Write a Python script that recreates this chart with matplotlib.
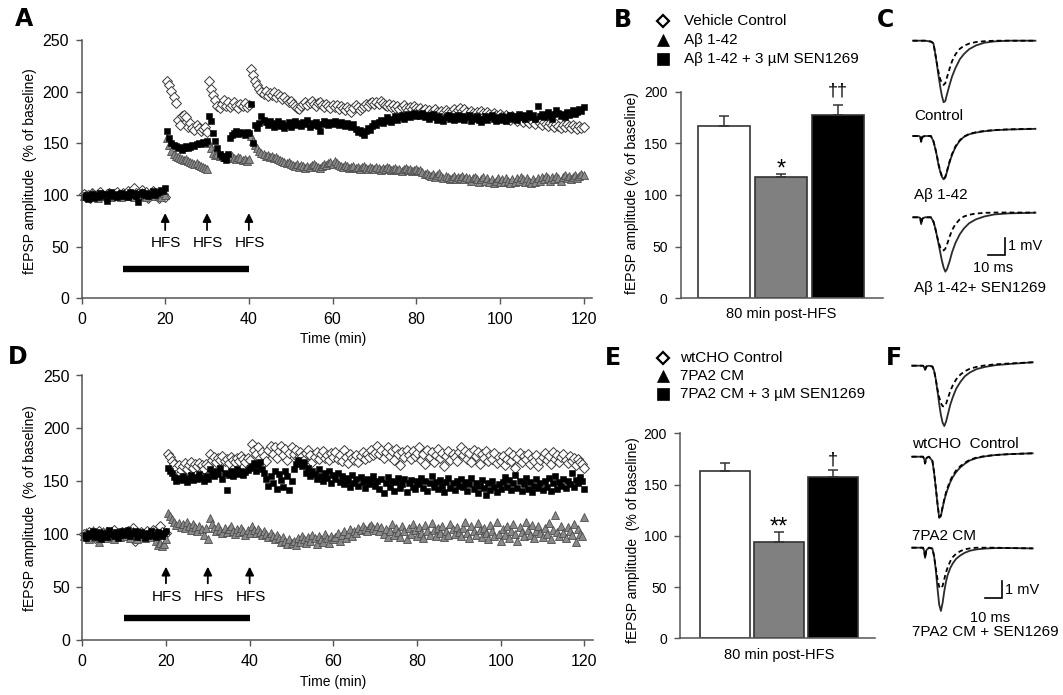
import numpy as np
import matplotlib
matplotlib.use("Agg")
import matplotlib.pyplot as plt
from matplotlib.lines import Line2D

# ---------------------------------------------------------------- data
sample_interval_min = 0.5

# Panel A (Abeta 1-42 experiment), one value every 0.5 min from 0.5 to 120 min
a_vehicle = [
    101, 99, 100, 97, 102, 100, 98, 101, 103, 100, 98, 101, 102, 99, 100, 101, 103, 100, 99, 102,
    101, 104, 100, 103, 107, 102, 99, 101, 105, 100, 103, 97, 101, 104, 100, 102, 97, 99, 101, 98,
    210, 206, 201, 195, 189, 173, 168, 176, 177, 175, 166, 170, 165, 163, 168, 165, 162, 164, 166, 161,
    210, 203, 197, 192, 186, 184, 188, 192, 186, 190, 185, 187, 190, 186, 184, 188, 186, 189, 185, 187,
    222, 216, 210, 206, 203, 200, 198, 201, 196, 199, 197, 200, 195, 198, 196, 193, 195, 192, 190, 191,
    188, 186, 184, 183, 186, 188, 190, 187, 189, 191, 188, 186, 189, 190, 187, 185, 188, 186, 184, 187,
    185, 187, 183, 186, 184, 182, 185, 183, 180, 184, 187, 185, 182, 184, 186, 188, 186, 189, 190, 188,
    190, 188, 191, 189, 187, 186, 188, 185, 187, 184, 186, 183, 185, 187, 184, 182, 185, 183, 186, 184,
    182, 184, 181, 183, 180, 182, 179, 181, 183, 180, 178, 181, 179, 182, 180, 178, 181, 183, 180, 182,
    184, 181, 183, 180, 178, 181, 179, 177, 180, 178, 181, 179, 177, 180, 178, 176, 179, 177, 175, 178,
    176, 174, 177, 175, 173, 176, 174, 172, 175, 173, 171, 174, 172, 170, 173, 171, 169, 172, 170, 168,
    171, 169, 167, 170, 168, 166, 169, 167, 165, 168, 166, 169, 167, 165, 168, 166, 164, 167, 165, 166,
]
a_abeta = [
    99, 101, 98, 100, 102, 99, 100, 97, 101, 100, 99, 102, 100, 98, 101, 99, 100, 102, 98, 100,
    101, 99, 100, 102, 98, 101, 100, 99, 103, 100, 98, 101, 100, 102, 99, 101, 100, 98, 102, 100,
    155, 148, 143, 140, 138, 137, 136, 135, 134, 135, 133, 132, 131, 130, 131, 129, 128, 127, 126, 125,
    150, 145, 141, 139, 140, 138, 139, 137, 138, 136, 137, 138, 136, 135, 137, 136, 134, 135, 133, 135,
    157, 152, 148, 145, 143, 141, 140, 138, 139, 137, 138, 136, 137, 135, 134, 133, 132, 131, 132, 130,
    129, 128, 130, 127, 129, 128, 126, 128, 127, 129, 130, 128, 127, 126, 128, 130, 129, 131, 132, 130,
    133, 131, 129, 128, 127, 129, 128, 126, 127, 128, 126, 127, 125, 127, 128, 126, 125, 127, 126, 125,
    127, 126, 124, 126, 125, 127, 126, 124, 125, 126, 124, 125, 123, 125, 126, 124, 125, 123, 124, 125,
    123, 124, 122, 120, 121, 119, 118, 120, 117, 119, 121, 118, 116, 118, 117, 115, 116, 118, 115, 117,
    116, 118, 115, 117, 116, 114, 116, 117, 115, 113, 115, 117, 114, 116, 113, 115, 112, 114, 116, 113,
    115, 113, 116, 114, 112, 115, 113, 116, 114, 117, 115, 113, 116, 114, 112, 115, 113, 116, 114, 117,
    115, 118, 116, 114, 117, 115, 118, 116, 114, 117, 119, 116, 118, 115, 117, 119, 116, 118, 120, 119,
]
a_abeta_sen = [
    98, 100, 96, 99, 101, 97, 100, 98, 102, 99, 101, 94, 100, 103, 99, 101, 98, 100, 102, 99,
    101, 98, 103, 100, 102, 99, 93, 101, 103, 100, 102, 99, 101, 104, 100, 102, 103, 105, 104, 107,
    162, 155, 150, 148, 147, 145, 146, 144, 145, 147, 145, 146, 148, 147, 149, 150, 149, 151, 150, 152,
    176, 172, 160, 152, 145, 140, 138, 136, 134, 140, 155, 158, 160, 162, 159, 161, 160, 158, 161, 160,
    188, 150, 168, 165, 170, 176, 173, 171, 168, 172, 170, 166, 169, 172, 167, 170, 165, 168, 171, 166,
    169, 172, 168, 170, 167, 171, 169, 173, 166, 170, 168, 171, 167, 162, 169, 172, 170, 168, 171, 169,
    172, 170, 168, 171, 169, 167, 170, 168, 166, 169, 164, 161, 163, 160, 158, 162, 165, 163, 167, 170,
    168, 171, 173, 170, 172, 175, 173, 171, 174, 176, 173, 175, 177, 174, 176, 178, 175, 177, 179, 176,
    178, 176, 179, 175, 177, 174, 176, 178, 175, 173, 176, 174, 172, 175, 177, 174, 176, 173, 175, 177,
    174, 176, 173, 175, 177, 172, 175, 174, 176, 173, 171, 174, 176, 173, 175, 177, 174, 172, 175, 173,
    176, 174, 172, 175, 177, 174, 176, 173, 178, 175, 177, 174, 176, 179, 175, 177, 174, 186, 176, 178,
    175, 177, 180, 176, 174, 178, 182, 179, 176, 178, 175, 180, 177, 179, 182, 178, 180, 183, 181, 185,
]

# Panel D (7PA2 conditioned medium experiment)
d_wtcho = [
    100, 97, 102, 99, 101, 96, 100, 103, 98, 101, 99, 102, 97, 100, 104, 99, 101, 98, 102, 100,
    99, 103, 100, 106, 94, 101, 98, 102, 100, 97, 103, 99, 101, 104, 100, 98, 108, 102, 99, 101,
    176, 173, 169, 166, 163, 165, 161, 164, 167, 162, 165, 168, 163, 166, 164, 167, 165, 162, 166, 164,
    176, 170, 173, 168, 172, 170, 174, 169, 171, 167, 173, 170, 168, 172, 169, 174, 171, 168, 172, 170,
    185, 180, 176, 182, 172, 178, 174, 169, 180, 183, 176, 182, 172, 179, 183, 175, 181, 170, 177, 182,
    176, 180, 172, 178, 174, 170, 177, 180, 175, 168, 173, 178, 171, 176, 179, 172, 175, 170, 177, 173,
    178, 171, 175, 169, 180, 173, 167, 176, 172, 170, 175, 168, 174, 178, 171, 176, 173, 180, 175, 177,
    183, 176, 180, 172, 178, 182, 174, 179, 170, 181, 176, 165, 178, 173, 180, 175, 171, 179, 174, 177,
    182, 170, 176, 166, 180, 173, 178, 168, 175, 181, 172, 177, 164, 174, 179, 170, 176, 173, 169, 178,
    182, 175, 179, 171, 177, 168, 180, 174, 178, 166, 176, 172, 179, 169, 175, 171, 177, 167, 173, 169,
    174, 165, 171, 178, 169, 175, 163, 172, 177, 168, 174, 171, 176, 166, 172, 169, 175, 164, 170, 173,
    177, 170, 174, 166, 178, 171, 175, 168, 173, 176, 170, 167, 174, 169, 172, 165, 171, 168, 166, 163,
]
d_7pa2 = [
    98, 102, 95, 100, 104, 97, 101, 93, 99, 103, 96, 100, 98, 102, 95, 101, 99, 97, 103, 100,
    98, 101, 96, 103, 99, 95, 102, 98, 100, 96, 99, 101, 97, 103, 94, 90, 92, 89, 91, 95,
    120, 117, 114, 112, 109, 111, 107, 110, 106, 112, 108, 104, 110, 107, 103, 108, 105, 99, 106, 95,
    115, 110, 106, 103, 108, 104, 101, 106, 102, 105, 108, 103, 100, 105, 102, 106, 103, 99, 104, 101,
    108, 104, 101, 105, 102, 99, 103, 100, 97, 101, 98, 95, 99, 96, 93, 97, 94, 91, 95, 92,
    94, 90, 96, 93, 98, 95, 92, 97, 94, 99, 96, 91, 98, 95, 93, 100, 96, 92, 98, 95,
    97, 101, 94, 99, 103, 96, 100, 105, 98, 103, 101, 106, 104, 108, 105, 103, 107, 109, 106, 104,
    108, 103, 107, 100, 105, 97, 103, 110, 99, 106, 102, 97, 108, 103, 95, 106, 100, 110, 104, 98,
    107, 101, 96, 109, 103, 99, 111, 104, 98, 106, 101, 108, 97, 103, 99, 110, 105, 100, 107, 102,
    98, 106, 112, 101, 96, 108, 103, 99, 111, 104, 97, 106, 101, 95, 109, 103, 98, 112, 100, 94,
    105, 99, 108, 96, 103, 110, 100, 94, 107, 102, 98, 112, 104, 99, 109, 96, 103, 108, 101, 97,
    106, 100, 111, 95, 104, 118, 102, 98, 108, 101, 96, 107, 103, 99, 110, 93, 105, 100, 98, 116,
]
d_7pa2_sen = [
    99, 96, 101, 98, 103, 97, 100, 102, 95, 99, 101, 97, 104, 100, 98, 102, 96, 101, 103, 99,
    100, 104, 98, 101, 103, 97, 99, 102, 100, 96, 101, 98, 103, 99, 97, 102, 100, 98, 101, 103,
    163, 160, 158, 154, 150, 153, 151, 155, 152, 149, 153, 156, 151, 154, 152, 157, 153, 150, 155, 152,
    162, 158, 155, 160, 157, 163, 152, 158, 142, 156, 160, 155, 158, 162, 157, 160, 156, 159, 161, 163,
    164, 167, 160, 165, 168, 162, 158, 152, 146, 155, 148, 160, 143, 157, 151, 145, 160, 155, 142, 150,
    162, 166, 170, 167, 164, 168, 158, 163, 155, 160, 157, 152, 162, 155, 150, 158, 153, 160, 148, 156,
    152, 158, 149, 155, 147, 153, 150, 145, 156, 148, 152, 146, 154, 149, 144, 152, 147, 150, 155, 146,
    150, 143, 152, 139, 148, 154, 145, 150, 141, 149, 153, 144, 147, 152, 140, 148, 151, 145, 143, 150,
    147, 153, 144, 150, 141, 148, 155, 145, 149, 143, 151, 146, 140, 149, 153, 144, 148, 142, 150, 146,
    152, 145, 149, 141, 147, 153, 143, 148, 139, 146, 151, 144, 137, 148, 142, 150, 145, 140, 147, 143,
    149, 154, 145, 151, 142, 148, 156, 144, 150, 141, 147, 153, 143, 149, 140, 146, 152, 144, 148, 142,
    150, 145, 153, 141, 148, 155, 143, 149, 146, 152, 144, 150, 147, 158, 145, 151, 148, 154, 150, 143,
]

hfs_times = [20, 30, 40]
treatment_window = [10, 40]

# Panel B / E: 80 min post-HFS bars (mean, upper SEM)
b_labels = ["Vehicle Control", "A\u03b2 1-42", "A\u03b2 1-42 + 3 \u00b5M SEN1269"]
b_means = [167, 117, 177.5]
b_sems = [9, 3.5, 9.5]
b_marks = ["", "*", "\u2020\u2020"]

e_labels = ["wtCHO Control", "7PA2 CM", "7PA2 CM + 3 \u00b5M SEN1269"]
e_means = [163, 94, 157.5]
e_sems = [8, 9.5, 6.5]
e_marks = ["", "**", "\u2020"]

# Panels C / F: representative fEPSP traces (ms, mV relative to baseline)
c_time_ms = [0, 3.5, 4.3, 4.8, 5.5, 7, 10.5, 12, 13, 14, 15, 16, 17, 18, 19, 20,
             21.5, 23, 25, 27.5, 30, 33, 37, 42, 48, 56, 72]
c_control_pre = [0, 0, 0, 0, 0, 0, -0.05, -0.15, -0.7, -1.35, -2.05, -2.7, -3.25, -3.62, -3.55, -3.15,
                 -2.6, -2.1, -1.6, -1.1, -0.78, -0.5, -0.28, -0.12, -0.04, 0, 0]
c_control_post = [0, 0, 0, 0, 0, 0, -0.05, -0.15, -0.7, -1.3, -1.85, -2.25, -2.5, -2.6, -2.5, -2.15,
                  -1.65, -1.2, -0.8, -0.48, -0.3, -0.17, -0.08, -0.03, 0, 0, 0]
c_abeta_pre = [0, 0, -0.05, -0.35, -0.05, 0, 0, -0.3, -0.7, -1.15, -1.7, -2.1, -2.4, -2.55, -2.45, -2.1,
               -1.55, -1.1, -0.65, -0.28, -0.05, 0.1, 0.2, 0.28, 0.34, 0.38, 0.42]
c_abeta_post = [0, 0, -0.05, -0.35, -0.05, 0, 0, -0.3, -0.68, -1.1, -1.65, -2.05, -2.35, -2.5, -2.4, -2.05,
                -1.5, -1.05, -0.6, -0.25, -0.03, 0.12, 0.22, 0.3, 0.35, 0.39, 0.43]
c_sen_pre = [0, 0, -0.05, -0.4, -0.08, 0, 0, -0.25, -0.6, -1.05, -1.55, -2.05, -2.55, -2.95, -3.2, -3.05,
             -2.6, -2.05, -1.5, -1.0, -0.65, -0.35, -0.12, 0.05, 0.17, 0.23, 0.27]
c_sen_post = [0, 0, -0.05, -0.4, -0.08, 0, 0, -0.25, -0.6, -1.05, -1.45, -1.75, -1.9, -1.95, -1.85, -1.6,
              -1.15, -0.75, -0.4, -0.12, 0.05, 0.15, 0.22, 0.26, 0.28, 0.28, 0.28]
c_trace_labels = ["Control", "A\u03b2 1-42", "A\u03b2 1-42+ SEN1269"]

f_time_ms = [0, 6.5, 7.2, 7.7, 8.4, 10, 12, 13, 14, 15, 16, 17, 18, 19, 20, 21,
             22.5, 24, 26, 28.5, 31, 34, 38, 43, 49, 57, 71]
f_wtcho_pre = [0, 0, -0.1, -0.25, -0.05, 0, -0.05, -0.3, -0.8, -1.5, -2.25, -2.9, -3.35, -3.55, -3.3, -2.9,
               -2.3, -1.85, -1.35, -0.95, -0.63, -0.4, -0.2, -0.07, 0.03, 0.1, 0.2]
f_wtcho_post = [0, 0, -0.1, -0.25, -0.05, 0, -0.05, -0.3, -0.8, -1.4, -1.85, -2.2, -2.38, -2.4, -2.25, -1.95,
                -1.5, -1.15, -0.8, -0.52, -0.33, -0.18, -0.07, 0.02, 0.08, 0.13, 0.2]
f_7pa2_pre = [0, 0, -0.15, -0.4, -0.08, 0, -0.25, -0.95, -1.85, -2.8, -3.6, -3.5, -3.0, -2.55, -2.2, -1.9,
              -1.5, -1.2, -0.9, -0.62, -0.42, -0.22, -0.08, 0.02, 0.1, 0.15, 0.2]
f_7pa2_post = [0, 0, -0.15, -0.4, -0.08, 0, -0.25, -0.9, -1.8, -2.75, -3.55, -3.45, -2.95, -2.5, -2.1, -1.8,
               -1.4, -1.1, -0.8, -0.55, -0.36, -0.18, -0.05, 0.04, 0.1, 0.15, 0.2]
f_sen_pre = [0, 0, -0.2, -0.6, -0.15, 0, -0.05, -0.5, -1.3, -2.4, -3.35, -3.72, -3.25, -2.55, -2.0, -1.6,
             -1.2, -0.92, -0.65, -0.45, -0.3, -0.18, -0.1, -0.05, -0.02, -0.02, -0.04]
f_sen_post = [0, 0, -0.2, -0.6, -0.15, 0, -0.05, -0.5, -1.2, -1.85, -2.3, -2.4, -2.25, -1.85, -1.45, -1.15,
              -0.8, -0.55, -0.35, -0.2, -0.1, -0.04, 0, 0, 0, -0.02, -0.04]
f_trace_labels = ["wtCHO  Control", "7PA2 CM", "7PA2 CM + SEN1269"]

# ---------------------------------------------------------------- layout helpers
W, H = 1063, 695
plt.rcParams["font.family"] = ["Liberation Sans", "DejaVu Sans"]
fig = plt.figure(figsize=(W / 100, H / 100), dpi=100)
fig.patch.set_facecolor("white")

def px_axes(left, top, right, bottom):
    return fig.add_axes([left / W, 1 - bottom / H, (right - left) / W, (bottom - top) / H])

def ftext(x, y, s, **kw):
    return fig.text(x / W, 1 - y / H, s, **kw)

AXCOL = "#555555"

def time_of(vals):
    return (np.arange(len(vals)) + 1) * sample_interval_min

diam = dict(marker="D", ms=4.8, mfc="white", mec="#3a3a3a", mew=0.7, ls="none")
tri = dict(marker="^", ms=5.9, mfc="#8a8a8a", mec="#4d4d4d", mew=0.6, ls="none")
sq = dict(marker="s", ms=4.9, mfc="black", mec="black", mew=0.4, ls="none")

def timecourse(ax, ctrl, treat, rescue, hfs_text_y, arrow_lo, arrow_hi, bar_y):
    ax.plot(time_of(ctrl), ctrl, **diam, clip_on=False)
    ax.plot(time_of(treat), treat, **tri, clip_on=False)
    ax.plot(time_of(rescue), rescue, **sq, clip_on=False)
    ax.set_xlim(0, 122)
    ax.set_ylim(0, 250)
    ax.set_xticks(range(0, 121, 20))
    ax.set_yticks(range(0, 251, 50))
    for s in ("top", "right"):
        ax.spines[s].set_visible(False)
    for s in ("left", "bottom"):
        ax.spines[s].set_color(AXCOL)
        ax.spines[s].set_linewidth(1.1)
    ax.tick_params(axis="both", labelsize=11.5, length=4, width=1, color=AXCOL, pad=5)
    ax.tick_params(axis="x", pad=6)
    for t in hfs_times:
        ax.annotate("", xy=(t, arrow_hi), xytext=(t, arrow_lo),
                    arrowprops=dict(arrowstyle="-|>,head_length=0.5,head_width=0.25",
                                    lw=1.3, color="black", shrinkA=0, shrinkB=0))
        ax.text(t + 0.3, hfs_text_y, "HFS", ha="center", va="center", fontsize=11)
    ax.plot(treatment_window, [bar_y, bar_y], color="black", lw=4.6, solid_capstyle="butt")

# ---------------------------------------------------------------- panel A
axA = px_axes(81.5, 40, 81.5 + 122 * 4.184, 298.3)
timecourse(axA, a_vehicle, a_abeta, a_abeta_sen, 54, 66, 82.5, 28.7)
ftext(333, 339, "Time (min)", ha="center", va="center", fontsize=10)
ftext(30.5, 171, "fEPSP amplitude  (% of baseline)", rotation=90, ha="center", va="center", fontsize=10)

# ---------------------------------------------------------------- panel D
axD = px_axes(82.3, 375.5, 82.3 + 122 * 4.184, 640)
timecourse(axD, d_wtcho, d_7pa2, d_7pa2_sen, 41, 53.6, 69.3, 20.5)
ftext(333, 682, "Time (min)", ha="center", va="center", fontsize=10)
ftext(30.5, 508, "fEPSP amplitude  (% of baseline)", rotation=90, ha="center", va="center", fontsize=10)

# ---------------------------------------------------------------- bar panels
bar_colors = ["white", "#808080", "black"]

def bar_panel(ax, means, sems, marks, width, xlim, mark_style):
    pos = np.arange(len(means))
    ax.bar(pos, means, width=width, color=bar_colors, edgecolor="#333333", linewidth=1.2, zorder=2)
    ax.errorbar(pos, means, yerr=[np.zeros(len(sems)), sems], fmt="none", ecolor="#333333",
                elinewidth=1.1, capsize=3.5, capthick=1.1, zorder=3)
    for p, m, s, mk, (fs, dy) in zip(pos, means, sems, marks, mark_style):
        if mk:
            ax.text(p, m + s + dy, mk, ha="center", va="baseline", fontsize=fs)
    ax.set_xlim(*xlim)
    ax.set_ylim(0, 200)
    ax.set_yticks(range(0, 201, 50))
    ax.set_xticks([])
    for s in ("top", "right"):
        ax.spines[s].set_visible(False)
    for s in ("left", "bottom"):
        ax.spines[s].set_color(AXCOL)
        ax.spines[s].set_linewidth(1.1)
    ax.tick_params(axis="y", labelsize=10, length=4.5, width=1, color=AXCOL, pad=5)

axB = px_axes(680.7, 91.7, 883, 298.3)
bar_panel(axB, b_means, b_sems, b_marks, 0.9, (-0.76, 2.79), [(0, 0), (17, -2), (13, 9)])
ftext(781, 314, "80 min post-HFS", ha="center", va="center", fontsize=10.5)
ftext(632, 193, "fEPSP amplitude (% of baseline)", rotation=90, ha="center", va="center", fontsize=10)

axE = px_axes(680, 433.3, 875, 638.3)
bar_panel(axE, e_means, e_sems, e_marks, 0.926, (-0.833, 2.78), [(0, 0), (17, -1), (13, 6)])
ftext(779, 655, "80 min post-HFS", ha="center", va="center", fontsize=10.5)
ftext(633, 540, "fEPSP amplitude  (% of baseline)", rotation=90, ha="center", va="center", fontsize=10)

# legends
def legend_block(marker_x, text_x, rows, labels):
    specs = [dict(marker="D", ms=6.2, mfc="white", mec="black", mew=1.6),
             dict(marker="^", ms=8.0, mfc="black", mec="black", mew=0.5),
             dict(marker="s", ms=8.0, mfc="black", mec="black", mew=0.5)]
    for y, lab, sp in zip(rows, labels, specs):
        fig.add_artist(Line2D([marker_x / W], [1 - y / H], transform=fig.transFigure, ls="none", **sp))
        ftext(text_x, y, lab, ha="left", va="center", fontsize=11)

legend_block(663, 684.5, [21, 40, 59], b_labels)
legend_block(663, 680, [358, 376, 394], e_labels)

# ---------------------------------------------------------------- trace panels
MS_PX = 1.7      # px per ms
MV_PX = 17.0     # px per mV

def trace_panel(box, origin_x, baselines, pre, post, tvec, bar_corner, mv_text, ms_text):
    left, top, right, bottom = box
    ax = px_axes(left, top, right, bottom)
    ax.set_xlim((left - origin_x) / MS_PX, (right - origin_x) / MS_PX)
    ax.set_ylim(-bottom / MV_PX, -top / MV_PX)
    ax.axis("off")
    for b, s, d in zip(baselines, pre, post):
        off = -b / MV_PX
        ax.plot(tvec, np.array(s) + off, color="#2a2a2a", lw=1.3, solid_joinstyle="round")
        ax.plot(tvec, np.array(d) + off, color="black", lw=1.3, dashes=(2.6, 1.8))
    cx = (bar_corner[0] - origin_x) / MS_PX
    cy = -bar_corner[1] / MV_PX
    ax.plot([cx - 10, cx, cx], [cy, cy, cy + 1], color="black", lw=1.2, solid_joinstyle="miter")
    ftext(mv_text[0], mv_text[1], "1 mV", ha="left", va="center", fontsize=10.5)
    ftext(ms_text[0], ms_text[1], "10 ms", ha="center", va="center", fontsize=10.5)

trace_panel((905, 20, 1063, 300), 913, [40.7, 136, 217.3],
            [c_control_pre, c_abeta_pre, c_sen_pre], [c_control_post, c_abeta_post, c_sen_post],
            c_time_ms, (1005, 255), (1008, 246.5), (993, 268))
for y, lab in zip([116.5, 195, 288], c_trace_labels):
    ftext(914, y, lab, ha="left", va="center", fontsize=11)

trace_panel((905, 355, 1063, 645), 912, [365.7, 456.7, 547.7],
            [f_wtcho_pre, f_7pa2_pre, f_sen_pre], [f_wtcho_post, f_7pa2_post, f_sen_post],
            f_time_ms, (1001.7, 598.3), (1005, 590), (990, 618))
for y, lab in zip([444, 536, 632], f_trace_labels):
    ftext(912, y, lab, ha="left", va="center", fontsize=11)

# ---------------------------------------------------------------- panel letters
for lab, x, y in [("A", 24, 19), ("B", 622.5, 20), ("C", 885, 20),
                  ("D", 18, 357), ("E", 613, 358), ("F", 894, 358)]:
    ftext(x, y, lab, ha="center", va="center", fontsize=17, fontweight="bold",
          family=["DejaVu Sans"])

fig.savefig("out.png", dpi=100, facecolor="white")
